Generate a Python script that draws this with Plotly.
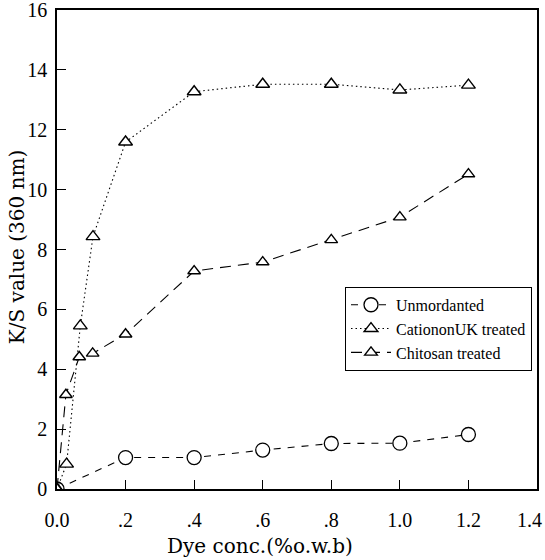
import plotly.graph_objects as go

# Dye concentration (% o.w.b) and K/S values at 360 nm
unmord_x = [0.0, 0.2, 0.4, 0.6, 0.8, 1.0, 1.2]
unmord_y = [0.0, 1.05, 1.05, 1.3, 1.52, 1.53, 1.82]

cationon_x = [0.0, 0.028, 0.068, 0.105, 0.2, 0.4, 0.6, 0.8, 1.0, 1.2]
cationon_y = [0.0, 0.83, 5.45, 8.43, 11.59, 13.27, 13.52, 13.52, 13.33, 13.49]

chitosan_x = [0.0, 0.026, 0.065, 0.104, 0.2, 0.4, 0.6, 0.8, 1.0, 1.2]
chitosan_y = [0.0, 3.15, 4.41, 4.53, 5.17, 7.28, 7.58, 8.32, 9.08, 10.52]

x_tickvals = [0.0, 0.2, 0.4, 0.6, 0.8, 1.0, 1.2, 1.4]
x_ticktext = ["0.0", ".2", ".4", ".6", ".8", "1.0", "1.2", "1.4"]
y_tickvals = [0, 2, 4, 6, 8, 10, 12, 14, 16]

x_title = "Dye conc.(%o.w.b)"
y_title = "K/S value (360 nm)"

SERIF = "Liberation Serif, Times New Roman, serif"
WIDE_SERIF = "DejaVu Serif, serif"

fig = go.Figure()

fig.add_trace(go.Scatter(
    x=unmord_x, y=unmord_y, name="Unmordanted", mode="lines+markers",
    line=dict(color="black", width=1.1, dash="7px,7px"),
    marker=dict(symbol="circle", size=14, color="white",
                line=dict(color="black", width=1.3)),
))
fig.add_trace(go.Scatter(
    x=cationon_x, y=cationon_y, name="CationonUK treated", mode="lines+markers",
    line=dict(color="black", width=1.1, dash="1.5px,3px"),
    marker=dict(symbol="triangle-up", size=12, color="white",
                line=dict(color="black", width=1.4)),
))
fig.add_trace(go.Scatter(
    x=chitosan_x, y=chitosan_y, name="Chitosan treated", mode="lines+markers",
    line=dict(color="black", width=1.1, dash="11px,7px"),
    marker=dict(symbol="triangle-up", size=11, color="white",
                line=dict(color="black", width=1.4)),
))

axis_common = dict(
    showline=True, linecolor="black", linewidth=1.5, mirror=True,
    ticks="inside", ticklen=9, tickwidth=1.2, tickcolor="black",
    showgrid=False, zeroline=False, ticklabeloverflow="allow",
    automargin=False,
    tickfont=dict(family=SERIF, size=20, color="black"),
)

# the last x label sits at the page edge, so it is drawn right-aligned
fig.update_xaxes(
    range=[0, 1.4], tickvals=x_tickvals,
    ticktext=x_ticktext[:-1] + [""],
    ticklabelstandoff=12,
    **axis_common,
)
fig.add_annotation(
    text=x_ticktext[-1], xref="x", yref="paper", x=x_tickvals[-1], y=0,
    xanchor="right", yanchor="top", xshift=7, yshift=-18,
    showarrow=False, font=dict(family=SERIF, size=20, color="black"),
)
fig.update_yaxes(
    range=[0, 16], tickvals=y_tickvals,
    ticklabelstandoff=4,
    **axis_common,
)

# axis titles placed as paper annotations
fig.add_annotation(
    text=x_title, xref="paper", yref="paper", x=(260 - 57) / 480, y=-0.118,
    xanchor="center", yanchor="middle", showarrow=False,
    font=dict(family=WIDE_SERIF, size=20, color="black"),
)
fig.add_annotation(
    text=y_title, xref="paper", yref="paper", x=-0.083, y=(489 - 247) / 479,
    xanchor="center", yanchor="middle", showarrow=False, textangle=-90,
    font=dict(family=WIDE_SERIF, size=20, color="black"),
)

fig.update_layout(
    width=545, height=560,
    margin=dict(l=57, r=8, t=10, b=71, autoexpand=False),
    paper_bgcolor="white", plot_bgcolor="white",
    showlegend=True,
    legend=dict(
        x=0.6, y=0.422, xanchor="left", yanchor="top",
        bgcolor="white", bordercolor="black", borderwidth=1,
        font=dict(family=SERIF, size=16, color="black"),
        tracegroupgap=0, itemwidth=40,
    ),
)

fig.write_html("out.html")
